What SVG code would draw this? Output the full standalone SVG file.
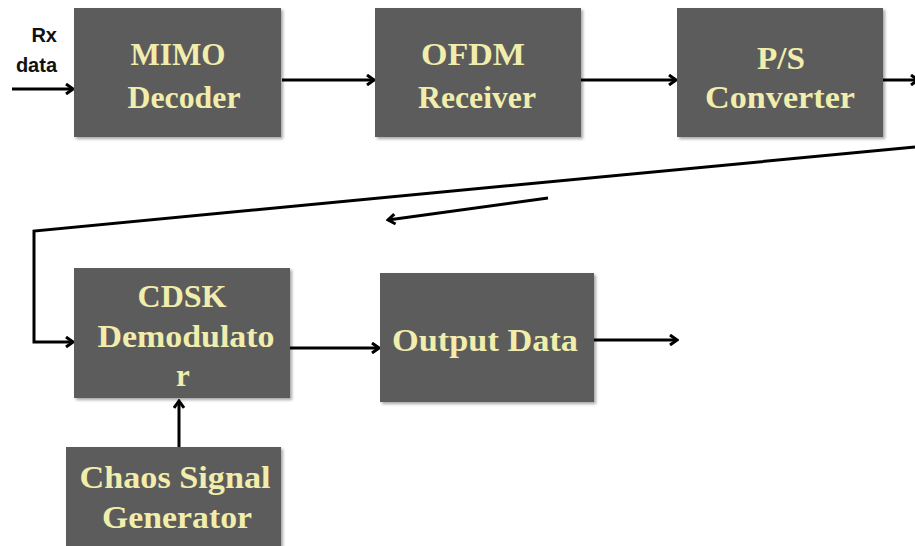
<svg xmlns="http://www.w3.org/2000/svg" width="915" height="546" viewBox="0 0 915 546">
<defs>
<marker id="ah" markerWidth="12" markerHeight="12" viewBox="0 0 12 12" refX="10" refY="6" orient="auto" markerUnits="userSpaceOnUse">
<path d="M3,1 L10,6 L3,11" fill="none" stroke="#000" stroke-width="3" stroke-linejoin="miter"/>
</marker>
<filter id="sh" x="-5%" y="-5%" width="115%" height="115%">
<feDropShadow dx="2" dy="2" stdDeviation="1.5" flood-color="#000" flood-opacity="0.35"/>
</filter>
</defs>
<style>
.box{fill:#5b5b5b;filter:url(#sh)}
.t{font-family:"Liberation Serif","Times New Roman",serif;font-weight:bold;font-size:31px;fill:#f1edac;text-anchor:middle}
.lbl{font-family:"Liberation Sans",Arial,sans-serif;font-weight:bold;font-size:20px;fill:#111;text-anchor:end}
.c{fill:none;stroke:#000;stroke-width:3}
</style>
<rect width="915" height="546" fill="#fff"/>
<g id="connectors">
<line class="c" x1="12" y1="89" x2="73" y2="89" marker-end="url(#ah)"/>
<line class="c" x1="282" y1="80" x2="374" y2="80" marker-end="url(#ah)"/>
<line class="c" x1="581" y1="80" x2="676" y2="80" marker-end="url(#ah)"/>
<line class="c" x1="883" y1="80" x2="918" y2="80" marker-end="url(#ah)"/>
<polyline class="c" points="915,147 34,231 34,342 73,342" marker-end="url(#ah)"/>
<line class="c" x1="548" y1="198" x2="388" y2="220" marker-end="url(#ah)"/>
<line class="c" x1="290" y1="348" x2="379" y2="348" marker-end="url(#ah)"/>
<line class="c" x1="594" y1="340" x2="677" y2="340" marker-end="url(#ah)"/>
<line class="c" x1="179" y1="447" x2="179" y2="401" marker-end="url(#ah)"/>
</g>
<g id="rx-label">
<text class="lbl" x="57" y="42">Rx</text>
<text class="lbl" x="57" y="72">data</text>
</g>
<g id="mimo">
<rect class="box" x="74" y="8" width="207" height="129"/>
<text class="t" x="178" y="65" textLength="95" lengthAdjust="spacingAndGlyphs">MIMO</text>
<text class="t" x="184" y="108" textLength="113" lengthAdjust="spacingAndGlyphs">Decoder</text>
</g>
<g id="ofdm">
<rect class="box" x="375" y="8" width="206" height="129"/>
<text class="t" x="473" y="65" textLength="104" lengthAdjust="spacingAndGlyphs">OFDM</text>
<text class="t" x="477" y="108" textLength="118" lengthAdjust="spacingAndGlyphs">Receiver</text>
</g>
<g id="ps">
<rect class="box" x="677" y="8" width="206" height="129"/>
<text class="t" x="781" y="69" textLength="48" lengthAdjust="spacingAndGlyphs">P/S</text>
<text class="t" x="780" y="108" textLength="150" lengthAdjust="spacingAndGlyphs">Converter</text>
</g>
<g id="cdsk">
<rect class="box" x="74" y="268" width="216" height="130"/>
<text class="t" x="182" y="307" textLength="89" lengthAdjust="spacingAndGlyphs">CDSK</text>
<text class="t" x="186" y="347" textLength="177" lengthAdjust="spacingAndGlyphs">Demodulato</text>
<text class="t" x="183" y="386">r</text>
</g>
<g id="output">
<rect class="box" x="380" y="273" width="214" height="129"/>
<text class="t" x="485" y="351" textLength="186" lengthAdjust="spacingAndGlyphs">Output Data</text>
</g>
<g id="chaos">
<rect class="box" x="66" y="447" width="215" height="110"/>
<text class="t" x="175" y="488" textLength="191" lengthAdjust="spacingAndGlyphs">Chaos Signal</text>
<text class="t" x="177" y="528" textLength="150" lengthAdjust="spacingAndGlyphs">Generator</text>
</g>
</svg>
